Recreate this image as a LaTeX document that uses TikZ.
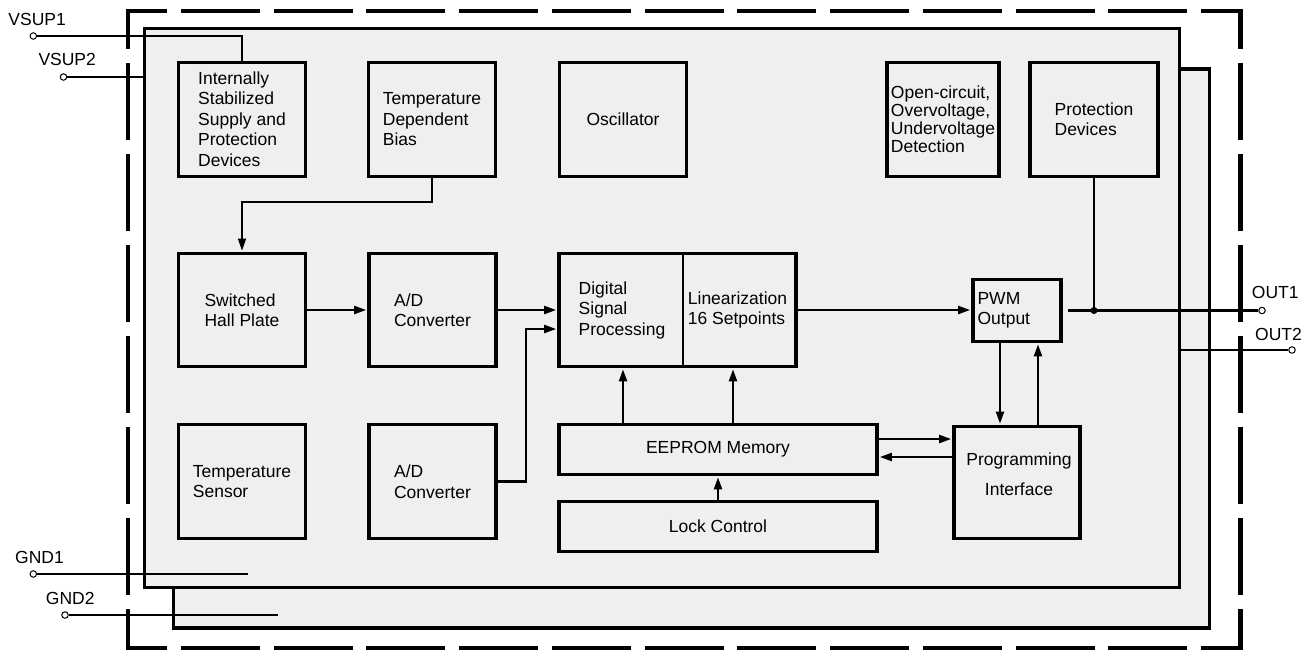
\documentclass[tikz,border=0pt]{standalone}
\usepackage{fontspec}
\setmainfont{Liberation Sans}
\usetikzlibrary{arrows.meta,calc}
\definecolor{boxfill}{RGB}{239,239,239}
\begin{document}
\begin{tikzpicture}[x=1pt,y=-1pt,
  every node/.style={font=\fontsize{17.5}{20.5}\selectfont, inner sep=0pt},
  blk/.style={draw, line width=3.3pt, fill=boxfill, align=left},
  sbox/.style={blk, minimum width=127pt, minimum height=114pt},
  wire/.style={line width=2.2pt},
  arr/.style={wire, shorten >=1.2pt, -{Triangle[length=12pt,width=8pt]}},
  pin/.style={circle, draw, fill=white, line width=1pt, minimum size=6.5pt},
  dot/.style={circle, fill=black, minimum size=7pt},
  lbl/.style={anchor=base west},
  hdash/.style={line width=4.4pt, line cap=rect, dash pattern=on 74.63pt off 18.1pt, dash phase=37.3pt},
  vdash/.style={line width=4.4pt, line cap=rect, dash pattern=on 72.56pt off 18.4pt, dash phase=36.28pt},
]
\useasboundingbox (0,0) rectangle (1314,651);

% outer dashed package outline
\coordinate (tl) at (127.7,11);
\coordinate (tr) at (1240.5,11);
\coordinate (bl) at (127.7,647.7);
\coordinate (br) at (1240.5,647.7);
\draw[hdash] (tl) -- (tr);
\draw[hdash] (bl) -- (br);
\draw[vdash] (tl) -- (bl);
\draw[vdash] (tr) -- (br);

% dies
\node[blk, minimum width=1036.2pt, minimum height=559pt] (back) at (691.4,348.5) {};
\node[blk, minimum width=1035.4pt, minimum height=559pt] (main) at (662,307.8) {};

% top row
\node[sbox] (isup) at (242,119.2) {Internally\\Stabilized\\Supply and\\Protection\\Devices};
\node[sbox] (bias) at (432,119.2) {Temperature\\Dependent\\Bias};
\node[sbox] (osc) at (623,119.2) {Oscillator};
\node[sbox, minimum width=112pt, font=\fontsize{17.5}{18.3}\selectfont] (ocd) at (943,119.2) {Open-circuit,\\Overvoltage,\\Undervoltage\\Detection};
\node[sbox, minimum width=128pt] (prot) at (1094,119.2) {Protection\\Devices};

% middle row
\node[sbox, minimum height=113pt] (hall) at (242,310) {Switched\\Hall Plate};
\node[sbox, minimum height=113pt] (ad1) at (432.5,310) {A/D\\Converter};
\node[blk, minimum width=237pt, minimum height=113pt] (dsp) at (677.5,310) {};
\draw[line width=2pt] ([xshift=5.5pt]dsp.north) -- ([xshift=5.5pt]dsp.south);
\node[align=left] (dsptxt) at (622,310) {Digital\\Signal\\Processing};
\node[align=left] (lintxt) at (737.5,310) {Linearization\\16 Setpoints};
\node[blk, minimum width=88pt, minimum height=62pt] (pwm) at (1017,310.5) {};
\node[align=left, anchor=west] (pwmtxt) at ([xshift=6pt]pwm.west) {PWM\\Output};

% bottom row
\node[sbox] (tsen) at (242,481.5) {Temperature\\Sensor};
\node[sbox] (ad2) at (432.5,481.5) {A/D\\Converter};
\node[blk, align=center, minimum width=318pt, minimum height=50pt] (eep) at (718,449.5) {EEPROM Memory};
\node[blk, align=center, minimum width=318pt, minimum height=50pt] (lock) at (718,526.5) {Lock Control};
\node[blk, minimum width=126pt, minimum height=112pt] (prog) at (1017,482.5) {};
\node[align=center, font=\fontsize{17.5}{30}\selectfont] (progtxt) at ([xshift=2pt,yshift=8.75pt]prog.center) {Programming\\Interface};

% pins
\node[pin] (v1) at (33.3,36) {};
\node[pin] (v2) at (63.5,77) {};
\node[pin] (g1) at (33.3,574) {};
\node[pin] (g2) at (65,615) {};
\node[pin] (o1) at (1262,310.5) {};
\node[pin] (o2) at (1292,350) {};

\node[lbl] (lv1) at (8.3,25.7) {VSUP1};
\node[lbl] (lv2) at (38.3,65.7) {VSUP2};
\node[lbl] (lg1) at (15,563.7) {GND1};
\node[lbl] (lg2) at (45.7,604) {GND2};
\node[lbl] (lo1) at (1251.7,298.3) {OUT1};
\node[lbl] (lo2) at (1255,340) {OUT2};

% pin wiring
\draw[wire] (v1) -| (isup.north);
\draw[wire] (v2) -- (v2 -| main.west);
\coordinate (g1e) at (248,574);
\draw[wire] (g1) -- (g1e);
\coordinate (g2e) at (278,615);
\draw[wire] (g2) -- (g2e);
\draw[wire] ([xshift=5pt]pwm.east) -- (o1);
\coordinate (jc) at (prot.south |- o1);
\draw[wire] (prot.south) -- (jc);
\node[dot] (jn) at (jc) {};
\draw[wire] (o2 -| main.east) -- (o2);

% signal flow
\coordinate (bh) at (0,202);
\draw[line width=1.5pt, shorten >=1.2pt, -{Triangle[length=12pt,width=8pt]}] (bias.south) -- (bias.south |- bh) -| (hall.north);
\draw[arr] (hall.east) -- (ad1.west);
\draw[arr] (ad1.east) -- (ad1.east -| dsp.west);
\coordinate (ad2j) at ($(dsp.west)+(-31,19)$);
\draw[arr] (ad2.east) -| (ad2j) -- (ad2j -| dsp.west);
\draw[arr] (dsp.east) -- (dsp.east -| pwm.west);
\coordinate (pd) at ([xshift=-17pt]pwm.south);
\draw[arr] (pd) -- (pd |- prog.north);
\coordinate (pu) at ([xshift=21pt]prog.north);
\draw[arr] (pu) -- (pu |- pwm.south);
\coordinate (er) at ([yshift=10.5pt]eep.east);
\draw[arr] (er) -- (er -| prog.west);
\coordinate (el) at ([yshift=-7.5pt]eep.east);
\draw[arr] (el -| prog.west) -- (el);
\coordinate (e1) at ([xshift=-95pt]eep.north);
\draw[arr] (e1) -- (e1 |- dsp.south);
\coordinate (e2) at ([xshift=15pt]eep.north);
\draw[arr] (e2) -- (e2 |- dsp.south);
\draw[arr] (lock.north) -- (eep.south);
\end{tikzpicture}
\end{document}
